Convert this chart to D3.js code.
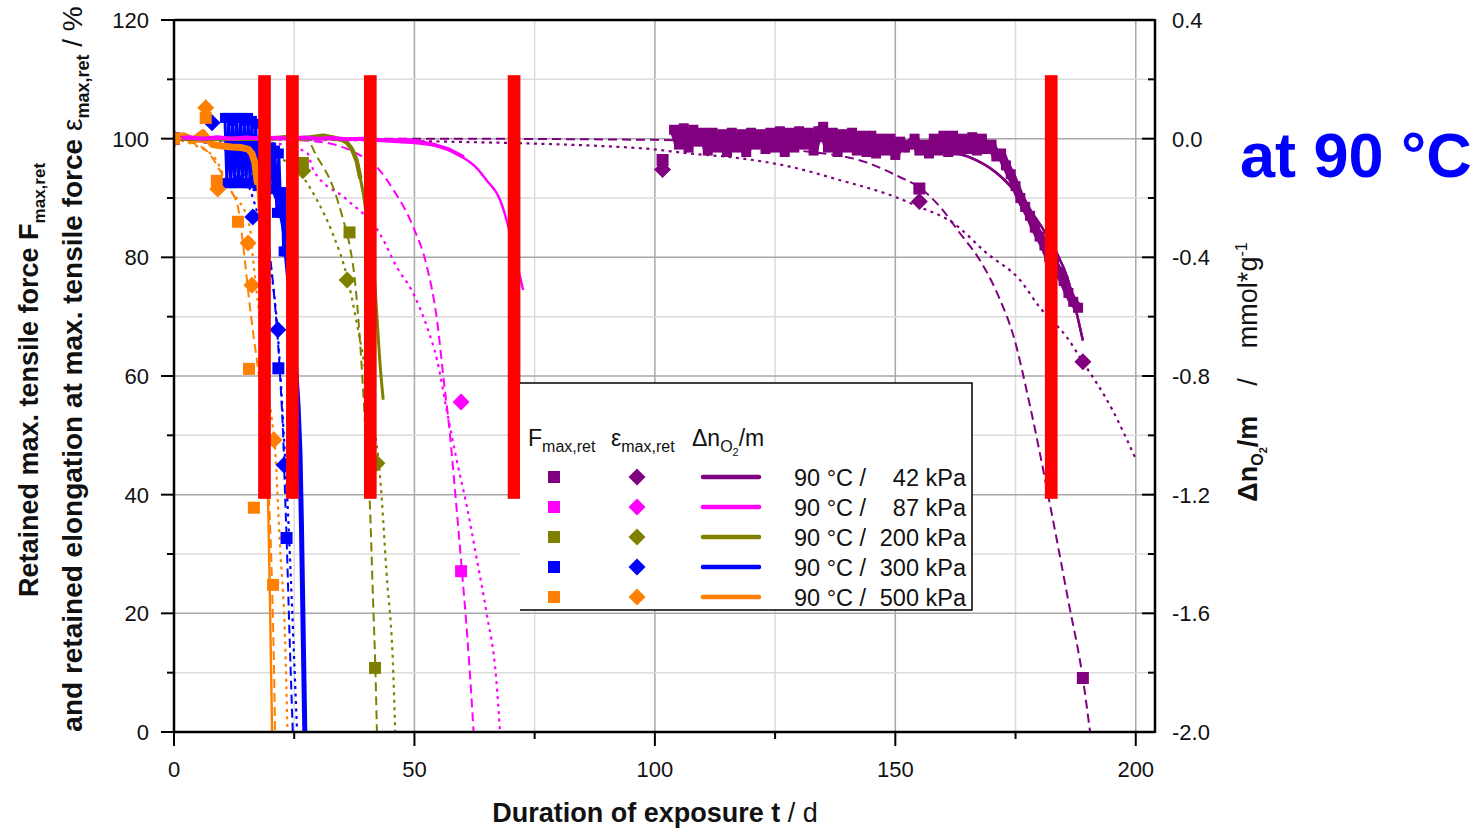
<!DOCTYPE html>
<html><head><meta charset="utf-8">
<script src="https://cdn.jsdelivr.net/npm/d3@7"></script>
<style>
body{margin:0;background:#fff}
svg{display:block}
text{font-family:"Liberation Sans",Arial,Helvetica,sans-serif;fill:#111}
</style>
</head><body>
<svg id="c" width="1483" height="829"></svg>
<script>
// ---------- DATA ----------
const pressures = ["42", "87", "200", "300", "500"];
const seriesColors = ["#800080", "#ff00ff", "#808000", "#0000ff", "#ff8000"];
const xTicks = [0, 50, 100, 150, 200];
const yTicks = [0, 20, 40, 60, 80, 100, 120];
const y2Ticks = [-2.0, -1.6, -1.2, -0.8, -0.4, 0.0, 0.4];

// retained max. tensile force F_max,ret  [t in d, %]
const fP42  = [[0,100],[101.6,96.4],[155,91.6],[189,9.1]];
const fP87  = [[0,100],[59.7,27.1]];
const fP200 = [[0,100],[26.8,95.9],[36.5,84.2],[41.8,10.8]];
const fP300 = [[0,100],[21.7,61.3],[23.4,32.7]];
const fP500 = [[0,100],[6.6,103.5],[8.9,92.9],[13.3,86],[15.6,61.2],[16.6,37.8],[20.6,24.8]];

// retained elongation eps_max,ret  [t, %]
const eP42  = [[0,100],[101.6,94.8],[155,89.4],[189,62.4]];
const eP87  = [[0,100],[59.7,55.6]];
const eP200 = [[0,100],[26.8,94.6],[36,76.2],[42.2,45.3]];
const eP300 = [[0,100],[7.9,102.7],[16.4,86.8],[21.6,67.8],[22.9,45]];
const eP500 = [[0,100],[6.6,105.2],[9.1,91.5],[15.4,82.4],[16.2,75.3],[20.8,49.2]];

// fitted curves for F (dashed)
const fitF42  = [[0,100],[50,100],[100,99.8],[130,98],[144,96],[151,93.5],[155,91.8],[159.3,88.5],[163.4,84.1],[167.6,79.5],[171.8,72.8],[174.4,67.2],[178,55],[182,39],[186,22],[189,9],[190.5,0]];
const fitF87  = [[0,100],[20,99.9],[30,99.5],[38,97.5],[42.2,95.2],[45.6,91.4],[49.7,85.2],[52.6,78.4],[54.7,69.4],[56,60],[57.4,50],[58.4,41],[60,26],[61,16],[62,4],[62.3,0]];
const fitF200 = [[0,100],[20,100],[27.6,99.8],[29.7,97],[33,92],[35.2,86.3],[36.6,81.7],[37.5,77],[38.3,70],[39,62],[39.8,51],[40.7,39],[41.4,22],[41.9,10],[42.2,0]];
const fitF300 = [[0,100],[10,99],[16,95],[18.5,87],[20,80],[21,72],[21.6,66],[22.2,58],[22.7,50],[23.1,40],[23.4,33],[24,17],[24.4,7],[24.7,0]];
const fitF500 = [[0,100],[3,99.5],[7,97.8],[10,94],[12,91],[13.3,88.5],[14.1,84],[14.8,79],[15.6,73],[16.5,67],[17.5,61],[18.5,53],[19.5,43],[20.2,30],[20.6,18],[20.9,6],[21,0]];

// fitted curves for eps (dotted)
const fitE42  = [[0,100],[50,99.6],[96.9,98.4],[107.3,97.5],[117.7,96.7],[128,95.3],[138.5,93],[148.9,90.5],[155,88.5],[162,85.8],[169,80.7],[175.9,76.2],[180,71.6],[185.6,66.6],[189,62.4],[195,54.5],[200,46]];
const fitE87  = [[0,100],[10,99.7],[20,99.3],[27.6,97.7],[29,94.7],[36,89.7],[42.8,84],[46.3,78.4],[49.7,74],[52.6,68.3],[54.7,62.7],[56.7,54.3],[58.8,45.8],[60.9,38],[63,29],[65,20],[67,9],[67.8,0]];
const fitE200 = [[0,100],[10,99.5],[17,98.5],[21.4,97],[26.2,94.2],[29.7,89.7],[33,84],[36,76.7],[38,69],[40,60],[41.5,52],[42.8,43.6],[44.2,26.8],[45.6,10],[46,0]];
const fitE300 = [[0,100],[8,99],[12,97],[16,91],[19,82],[20.5,76],[21.6,67],[22.9,49],[23.7,37],[24.5,22],[25.1,10],[25.6,0]];
const fitE500 = [[0,100],[4,99],[8.5,96.7],[12,91],[13,90],[15.8,85],[16.4,80],[17.5,72],[18.5,65],[19.5,58],[20.3,53],[21,48],[22,32],[23.1,15.5],[23.6,0]];

// oxygen uptake Δn_O2/m measured [t, mmol/g]
const dn42 = [[104,0.03],[105,-0.02],[106,0.035],[107,-0.03],[108,0.03],[109,-0.01],[110,0.02],[111,-0.04],[112,0.02],[113,-0.03],[114,0.015],[115,-0.045],[116,0.02],[117,-0.03],[118,0.015],[119,-0.045],[120,0.02],[121,-0.02],[122,0.015],[123,-0.035],[124,0.02],[125,-0.03],[126,0.025],[127,-0.045],[128,0.02],[129,-0.03],[130,0.025],[131,-0.02],[132,0.02],[133,-0.04],[134,0.025],[135,0.04],[136,-0.03],[137,0.02],[138,-0.045],[139,0.015],[140,-0.03],[141,0.02],[142,-0.04],[143,0.01],[144,-0.045],[145,0.01],[146,-0.05],[147,0.0],[148,-0.04],[149,0.0],[150,-0.055],[151,-0.01],[152,-0.03],[153,-0.02],[154,0.0],[155,-0.04],[156,-0.02],[157,-0.05],[158,0.0],[159,-0.04],[160,0.01],[161,-0.045],[162,0.01],[163,-0.04],[164,0.0],[165,-0.035],[166,0.005],[167,-0.04],[168,0.0],[169,-0.035],[170,-0.02],[171,-0.06],[172,-0.05],[173,-0.09],[174,-0.12],[175,-0.16],[176,-0.2],[177,-0.23],[178,-0.26],[179,-0.3],[180,-0.33],[181,-0.36],[182,-0.4],[183,-0.42],[184,-0.45],[185,-0.48],[186,-0.52],[187,-0.55],[188,-0.57]];
const dn87 = [[0,0],[3,0.005],[6,0],[9,0.005],[12,0],[15,0.004],[18,0],[21,0.003],[24,0],[27,0.004],[30,0],[33,0.002],[36,-0.002],[39,0],[42,-0.004],[45,-0.005],[48,-0.004],[51,-0.01],[54,-0.02],[57,-0.035],[60,-0.06]];
const dn200 = [[0,0],[10,0],[20,0],[23,0.005],[26,0],[29,0.006],[31,0.01],[33,0.004],[35,-0.004],[36,-0.014],[37,-0.035],[38,-0.075],[38.7,-0.13]];
const dn300 = [[10.6,0.07],[11.0,-0.15],[11.4,0.07],[11.8,-0.15],[12.2,0.06],[12.6,-0.15],[13.0,0.07],[13.4,-0.14],[13.8,0.07],[14.2,-0.15],[14.6,0.06],[15.0,-0.15],[15.4,0.07],[15.8,-0.15],[16.2,0.06],[16.6,-0.14],[17.0,0.05],[17.4,-0.16],[17.8,-0.02],[18.2,-0.16],[18.6,-0.02],[19.0,-0.16],[19.4,-0.03],[19.8,-0.17],[20.2,-0.03],[20.6,-0.17],[21.0,-0.04],[21.4,-0.25],[21.8,-0.05],[22.2,-0.25],[22.5,-0.18],[22.8,-0.38],[23.1,-0.2],[23.3,-0.38]];
const dn300tail = [[23.3,-0.38],[24,-0.5],[25,-0.7],[25.8,-0.9],[26.2,-1.06],[26.5,-1.3],[26.8,-1.6],[27.2,-2.0]];
const dn500 = [[0,0],[2,0.01],[4,-0.005],[6,0.02],[8,-0.02],[10,-0.025],[12,-0.028],[14,-0.03],[15.4,-0.035],[16.2,-0.05],[16.8,-0.08],[17.3,-0.146]];

// fitted Δn_O2/m curves (thin solid)
const dnFit42  = [[104,0],[130,-0.005],[150,-0.02],[160,-0.04],[165,-0.06],[171,-0.115],[174.5,-0.17],[178,-0.24],[182,-0.34],[186,-0.48],[189,-0.68]];
const dnFit87  = [[0,0],[30,0],[45,-0.01],[50,-0.015],[55.3,-0.028],[58,-0.045],[60.9,-0.072],[63,-0.1],[65,-0.14],[67.8,-0.206],[69.9,-0.32],[71.3,-0.42],[72.6,-0.51]];
const dnFit200 = [[0,0],[30,0],[35,-0.005],[36,-0.014],[37,-0.035],[38,-0.075],[38.7,-0.13],[39.3,-0.18],[40.3,-0.29],[41.4,-0.41],[42.2,-0.6],[42.8,-0.75],[43.5,-0.88]];
const dnFit300 = [[0,0],[10,-0.005],[16,-0.05],[20,-0.15],[23,-0.35],[25,-0.7],[26.2,-1.06],[27.2,-2.0]];
const dnFit500 = [[0,0],[10,-0.02],[15.4,-0.035],[17.3,-0.146],[17.8,-0.3],[18.5,-0.6],[19.2,-1.0],[19.6,-1.25],[20.0,-1.6],[20.4,-2.0]];

// red highlight bars (start day, width in days, top %, bottom %)
const redBarStarts = [17.5, 23.3, 39.5, 69.4, 181.1];
const redBarWidth = 2.64;
const redBarTop = 110.7, redBarBottom = 39.3;

// ---------- CHART ----------
const svg = d3.select("#c");
const L = 174, R = 1155, T = 20, B = 732;
const x = d3.scaleLinear().domain([0, 204]).range([L, R]);
const y = d3.scaleLinear().domain([0, 120]).range([B, T]);
const y2 = d3.scaleLinear().domain([-2.0, 0.4]).range([B, T]);

svg.append("defs").append("clipPath").attr("id","clip")
  .append("rect").attr("x",L).attr("y",T).attr("width",R-L).attr("height",B-T);

// grid
const grid = svg.append("g");
d3.range(25, 201, 25).forEach(v => {
  grid.append("line").attr("x1",x(v)).attr("x2",x(v)).attr("y1",T).attr("y2",B)
    .attr("stroke", v % 50 === 0 ? "#a8a8a8" : "#dcdcdc").attr("stroke-width",1.5);
});
d3.range(10, 120, 10).forEach(v => {
  grid.append("line").attr("x1",L).attr("x2",R).attr("y1",y(v)).attr("y2",y(v))
    .attr("stroke", v % 20 === 0 ? "#a8a8a8" : "#dcdcdc").attr("stroke-width",1.5);
});

const series = [
  {c:0, F:fP42,  E:eP42,  fitF:fitF42,  fitE:fitE42,  dn:dn42,  dnFit:dnFit42,  dnW:9, dnSq:10},
  {c:1, F:fP87,  E:eP87,  fitF:fitF87,  fitE:fitE87,  dn:dn87,  dnFit:dnFit87,  dnW:4, dnSq:0},
  {c:2, F:fP200, E:eP200, fitF:fitF200, fitE:fitE200, dn:dn200, dnFit:dnFit200, dnW:4.5, dnSq:0},
  {c:3, F:fP300, E:eP300, fitF:fitF300, fitE:fitE300, dn:dn300, dnFit:dnFit300, dnW:3, dnSq:10},
  {c:4, F:fP500, E:eP500, fitF:fitF500, fitE:fitE500, dn:dn500, dnFit:dnFit500, dnW:7, dnSq:0}
];

const plot = svg.append("g").attr("clip-path","url(#clip)");
const lineL = d3.line().x(d=>x(d[0])).y(d=>y(d[1])).curve(d3.curveMonotoneX);
const lineR = d3.line().x(d=>x(d[0])).y(d=>y2(d[1])).curve(d3.curveMonotoneX);
const lineRraw = d3.line().x(d=>x(d[0])).y(d=>y2(d[1]));

// fits
series.forEach(s => {
  const col = seriesColors[s.c];
  plot.append("path").attr("d", lineL(s.fitF)).attr("fill","none").attr("stroke",col)
    .attr("stroke-width",2).attr("stroke-dasharray","9,5");
  plot.append("path").attr("d", lineL(s.fitE)).attr("fill","none").attr("stroke",col)
    .attr("stroke-width",2.2).attr("stroke-dasharray","3,4.5");
});

// Δn curves, draw order: 300, 500, 200, 87, 42
[3,4,2,1,0].forEach(i => {
  const s = series[i], col = seriesColors[s.c];
  plot.append("path").attr("d", lineR(s.dnFit)).attr("fill","none").attr("stroke",col)
    .attr("stroke-width", i===2 ? 3 : 2.4);
  plot.append("path").attr("d", lineRraw(s.dn)).attr("fill","none").attr("stroke",col)
    .attr("stroke-width", s.dnW).attr("stroke-linejoin","round").attr("stroke-linecap","round");
  if (i === 3) {
    plot.append("path").attr("d", lineRraw(dn300tail)).attr("fill","none").attr("stroke",col)
      .attr("stroke-width",5);
  }
  if (s.dnSq > 0) {
    plot.selectAll(null).data(s.dn).enter().append("rect")
      .attr("x", d => x(d[0]) - s.dnSq/2).attr("y", d => y2(d[1]) - s.dnSq/2)
      .attr("width", s.dnSq).attr("height", s.dnSq).attr("fill", col);
  }
});
// redraw thin 42 kPa fit on top of its band where it separates
plot.append("path").attr("d", lineR(dnFit42)).attr("fill","none").attr("stroke",seriesColors[0]).attr("stroke-width",2.4);

// markers
const diamond = h => `M0,${-h}L${h},0L0,${h}L${-h},0Z`;
series.forEach(s => {
  const col = seriesColors[s.c];
  plot.selectAll(null).data(s.F).enter().append("rect")
    .attr("x", d => x(d[0]) - 6).attr("y", d => y(d[1]) - 6)
    .attr("width",12).attr("height",12).attr("fill",col);
  plot.selectAll(null).data(s.E).enter().append("path")
    .attr("transform", d => `translate(${x(d[0])},${y(d[1])})`)
    .attr("d", diamond(8.5)).attr("fill",col);
});

// red bars
svg.append("g").selectAll("rect").data(redBarStarts).enter().append("rect")
  .attr("x", d => x(d)).attr("width", d => x(d + redBarWidth) - x(d))
  .attr("y", y(redBarTop)).attr("height", y(redBarBottom) - y(redBarTop))
  .attr("fill", "#ff0000");

// frame & axes
const ax = svg.append("g").attr("stroke","#000").attr("stroke-width",2.5);
ax.append("line").attr("x1",L).attr("x2",L).attr("y1",T-1).attr("y2",B+1);
ax.append("line").attr("x1",R).attr("x2",R).attr("y1",T-1).attr("y2",B+1);
ax.append("line").attr("x1",L).attr("x2",R).attr("y1",T).attr("y2",T);
ax.append("line").attr("x1",L).attr("x2",R).attr("y1",B).attr("y2",B);

d3.range(0, 121, 10).forEach(v => {
  const major = v % 20 === 0;
  ax.append("line").attr("x1",L).attr("x2",L-(major?13:7)).attr("y1",y(v)).attr("y2",y(v)).attr("stroke-width",2);
});
d3.range(0, 201, 25).forEach(v => {
  const major = v % 50 === 0;
  ax.append("line").attr("x1",x(v)).attr("x2",x(v)).attr("y1",B).attr("y2",B+(major?14:7)).attr("stroke-width",2);
});
d3.range(-2.0, 0.41, 0.2).forEach(v => {
  const major = Math.abs(Math.round(v*10) % 4) === 0;
  ax.append("line").attr("x1",R).attr("x2",R-(major?13:7)).attr("y1",y2(v)).attr("y2",y2(v)).attr("stroke-width",2);
});

const tl = svg.append("g").attr("font-size",22).attr("fill","#111");
yTicks.forEach(v => tl.append("text").attr("x",149).attr("y",y(v)+8).attr("text-anchor","end").text(v));
xTicks.forEach(v => tl.append("text").attr("x",x(v)).attr("y",777).attr("text-anchor","middle").text(v));
y2Ticks.forEach(v => tl.append("text").attr("x",1172).attr("y",y2(v)+8).text(v.toFixed(1)));

// axis titles
const t1 = svg.append("text").attr("transform","translate(38,380) rotate(-90)")
  .attr("text-anchor","middle").attr("font-size",27).attr("font-weight","bold");
t1.append("tspan").text("Retained max. tensile force F");
t1.append("tspan").attr("dy",7).attr("font-size",17).text("max,ret");

const t2 = svg.append("text").attr("transform","translate(82,369) rotate(-90)")
  .attr("text-anchor","middle").attr("font-size",28).attr("font-weight","bold");
t2.append("tspan").text("and retained elongation at max. tensile force ");
t2.append("tspan").attr("font-weight","normal").text("ε");
t2.append("tspan").attr("dy",7).attr("font-size",18).text("max,ret");
t2.append("tspan").attr("dy",-7).attr("font-weight","normal").text(" / %");

const t3 = svg.append("text").attr("x",655).attr("y",822).attr("text-anchor","middle")
  .attr("font-size",27);
t3.append("tspan").attr("font-weight","bold").text("Duration of exposure t");
t3.append("tspan").text(" / d");

const t4 = svg.append("text").attr("transform","translate(1257,372) rotate(-90)")
  .attr("text-anchor","middle").attr("font-size",27);
t4.append("tspan").attr("font-weight","bold").text("Δn");
t4.append("tspan").attr("dy",6).attr("font-size",16).attr("font-weight","bold").text("O");
t4.append("tspan").attr("dy",4).attr("font-size",11).attr("font-weight","bold").text("2");
t4.append("tspan").attr("dy",-10).attr("font-weight","bold").text("/m");
t4.append("tspan").style("white-space","pre").text("    /    mmol*g");
t4.append("tspan").attr("dy",-10).attr("font-size",16).text("-1");

svg.append("text").attr("x",1240).attr("y",177).attr("font-size",63).attr("font-weight","bold")
  .style("fill","#0000ff").text("at 90 °C");

// legend
const lg = svg.append("g");
lg.append("rect").attr("x",520).attr("y",383).attr("width",452).attr("height",227).attr("fill","#fff");
lg.append("path").attr("d","M520,383H972V610H520").attr("fill","none").attr("stroke","#000").attr("stroke-width",1.5);
const hdr = (xx, main, sub) => {
  const t = lg.append("text").attr("x",xx).attr("y",446).attr("font-size",23);
  t.append("tspan").text(main);
  t.append("tspan").attr("dy",6).attr("font-size",16).text(sub);
};
hdr(528, "F", "max,ret");
hdr(611, "ε", "max,ret");
const h3 = lg.append("text").attr("x",692).attr("y",446).attr("font-size",23);
h3.append("tspan").text("Δn");
h3.append("tspan").attr("dy",6).attr("font-size",16).text("O");
h3.append("tspan").attr("dy",4).attr("font-size",11).text("2");
h3.append("tspan").attr("dy",-10).text("/m");

pressures.forEach((p, i) => {
  const yy = 477 + i*30, col = seriesColors[i];
  lg.append("rect").attr("x",548).attr("y",yy-6).attr("width",12).attr("height",12).attr("fill",col);
  lg.append("path").attr("transform",`translate(637,${yy})`).attr("d",diamond(8.5)).attr("fill",col);
  lg.append("line").attr("x1",703).attr("x2",759).attr("y1",yy).attr("y2",yy)
    .attr("stroke",col).attr("stroke-width",4.5).attr("stroke-linecap","round");
  lg.append("text").attr("x",794).attr("y",yy+8.5).attr("font-size",23.5).text("90 °C /");
  lg.append("text").attr("x",966).attr("y",yy+8.5).attr("font-size",23.5).attr("text-anchor","end").text(p + " kPa");
});
</script>
</body></html>
